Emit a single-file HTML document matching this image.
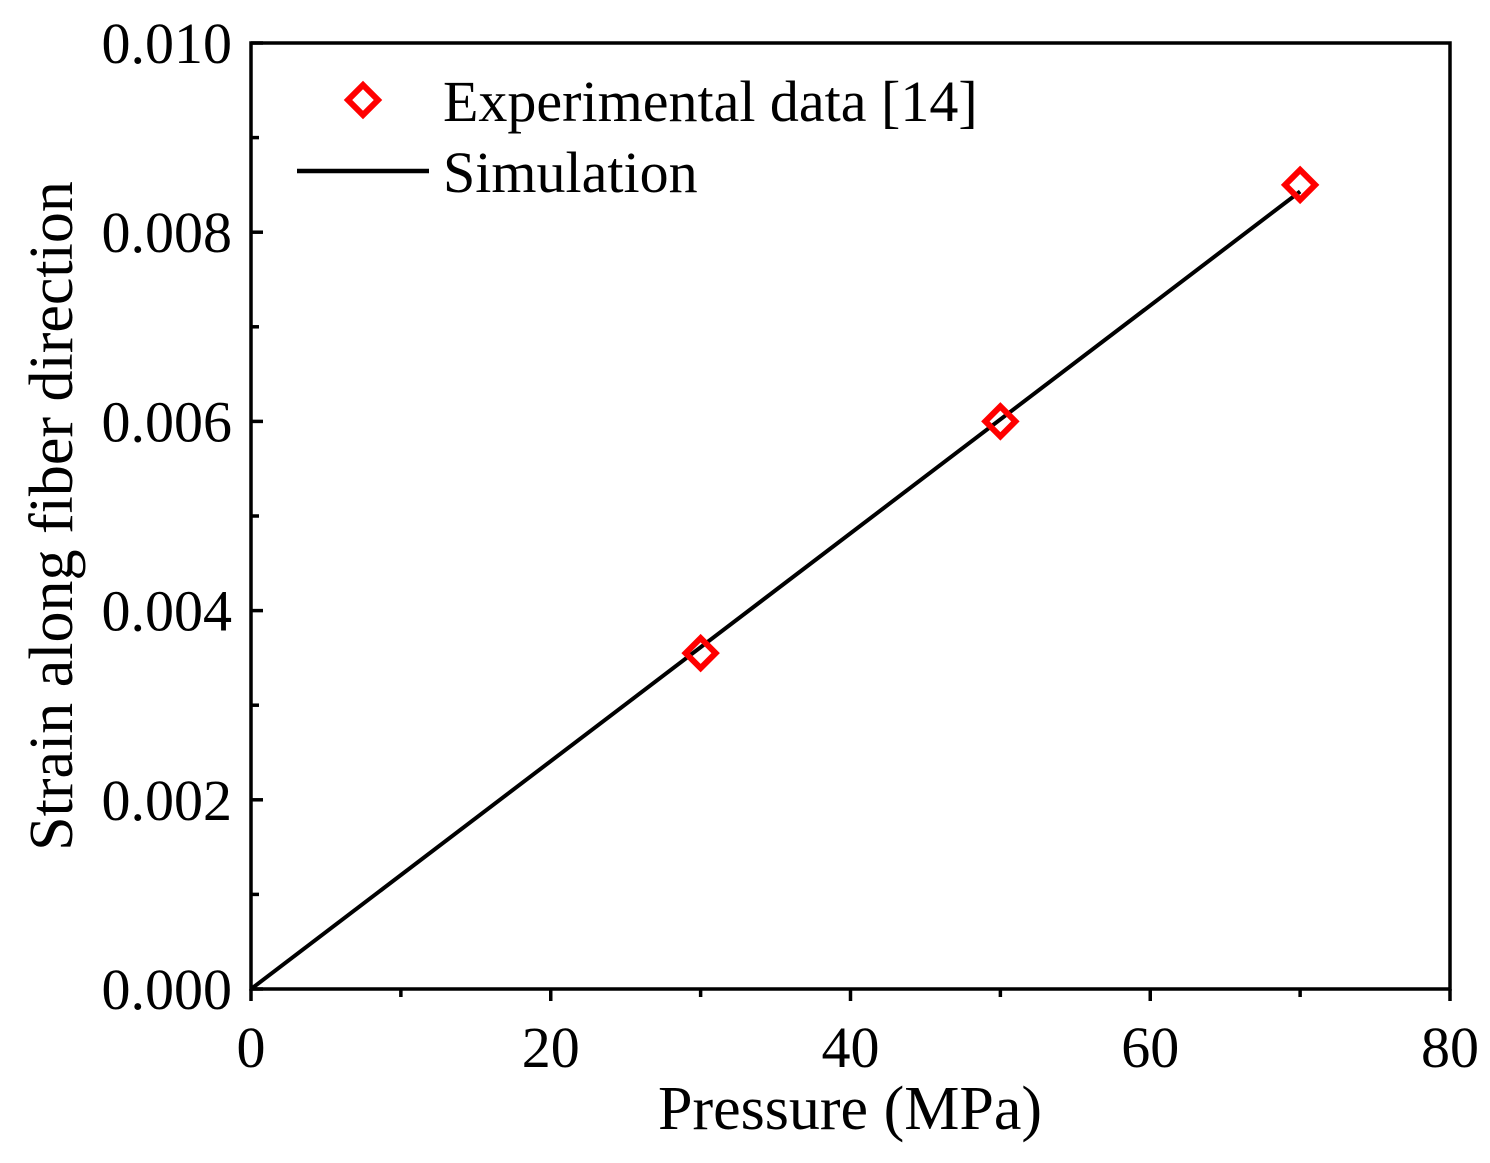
<!DOCTYPE html>
<html><head><meta charset="utf-8"><style>
html,body{margin:0;padding:0;background:#fff;}
svg text{font-family:"Liberation Serif",serif;fill:#000;}
</style></head><body>
<svg id="chart" width="1490" height="1158" xmlns="http://www.w3.org/2000/svg">
<g id="axes"></g>
<g id="marks"></g>
<g id="legend">
  <path d="M363,85 L378,100 L363,115 L348,100 Z" fill="none" stroke="#ff0000" stroke-width="6"/>
  <text x="443" y="121" font-size="58">Experimental data [14]</text>
  <line x1="297" y1="171" x2="429" y2="171" stroke="#000" stroke-width="4.5"/>
  <text x="443" y="192" font-size="58">Simulation</text>
</g>
<text x="850" y="1129" font-size="62" text-anchor="middle">Pressure (MPa)</text>
<text transform="translate(72,516) rotate(-90)" font-size="62" text-anchor="middle">Strain along fiber direction</text>
</svg>
<script>
const xTicks=[0,20,40,60,80];
const xMinor=[10,30,50,70];
const yTicks=[0,0.002,0.004,0.006,0.008,0.010];
const yTickLabels=["0.000","0.002","0.004","0.006","0.008","0.010"];
const yMinor=[0.001,0.003,0.005,0.007,0.009];
const expX=[30,50,70];
const expY=[0.00355,0.0060,0.0085];
const simX=[0,70];
const simY=[0,0.00843];
const L=251,R=1450,T=43,B=989;
const xs=v=>L+(v-0)/(80-0)*(R-L);
const ys=v=>B-(v-0)/(0.010-0)*(B-T);
const NS="http://www.w3.org/2000/svg";
function mk(tag,attrs,parent){const e=document.createElementNS(NS,tag);for(const k in attrs)e.setAttribute(k,attrs[k]);parent.appendChild(e);return e;}
const ax=document.getElementById('axes'),mg=document.getElementById('marks');
const frame=mk('rect',{x:L,y:T,width:R-L,height:B-T,fill:'none',stroke:'#000','stroke-width':3.5},ax);


xTicks.forEach(v=>{
  const t=mk('line',{x1:xs(v),x2:xs(v),y1:B,y2:B+12,stroke:'#000','stroke-width':3.5},ax);
  
  
  const l=mk('text',{x:xs(v),y:1067,'font-size':58,'text-anchor':'middle'},ax);l.textContent=v;
  
  
});
xMinor.forEach(v=>{
  const t=mk('line',{x1:xs(v),x2:xs(v),y1:B,y2:B+8,stroke:'#000','stroke-width':3.5},ax);
  
  
});
yTicks.forEach((v,i)=>{
  const t=mk('line',{x1:L,x2:L+12,y1:ys(v),y2:ys(v),stroke:'#000','stroke-width':3.5},ax);
  
  
  const l=mk('text',{x:232,y:ys(v)+20,'font-size':58,'text-anchor':'end'},ax);l.textContent=yTickLabels[i];
  
  
});
yMinor.forEach(v=>{
  const t=mk('line',{x1:L,x2:L+8,y1:ys(v),y2:ys(v),stroke:'#000','stroke-width':3.5},ax);
  
  
});
const pts=simX.map((x,i)=>xs(x)+','+ys(simY[i])).join(' ');
const line=mk('polyline',{points:pts,fill:'none',stroke:'#000','stroke-width':4},mg);


expX.forEach((x,i)=>{
  const cx=xs(x),cy=ys(expY[i]),r=15;
  const p=mk('path',{d:`M${cx},${cy-r} L${cx+r},${cy} L${cx},${cy+r} L${cx-r},${cy} Z`,fill:'none',stroke:'#ff0000','stroke-width':6},mg);
  
  
});
</script>
</body></html>
